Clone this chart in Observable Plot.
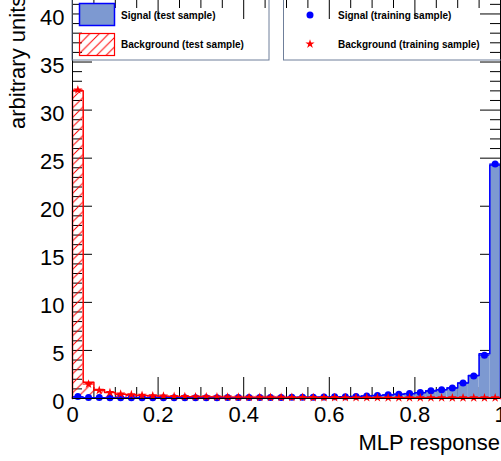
<!DOCTYPE html>
<html><head><meta charset="utf-8">
<script src="https://cdn.jsdelivr.net/npm/d3@7"></script>
<script src="https://cdn.jsdelivr.net/npm/@observablehq/plot@0.6"></script>
<style>html,body{margin:0;padding:0;background:#fff;overflow:hidden}</style>
</head><body><div id="chart"></div>
<script>
// ---- data (40 bins of width 0.025 over MLP response 0..1) ----
const binWidth = 0.025;
const sigTest  = [0.15,0.08,0.07,0.06,0.06,0.06,0.06,0.06,0.06,0.07,0.07,0.07,0.07,0.08,0.08,0.08,0.09,0.09,0.10,0.10,0.11,0.12,0.13,0.14,0.16,0.18,0.21,0.25,0.30,0.36,0.43,0.50,0.60,0.78,0.90,1.10,1.60,2.40,4.65,24.3];
const sigTrain = [0.20,0.10,0.10,0.08,0.08,0.08,0.08,0.08,0.08,0.08,0.08,0.09,0.09,0.09,0.10,0.10,0.10,0.10,0.11,0.11,0.12,0.13,0.14,0.15,0.17,0.19,0.22,0.26,0.31,0.38,0.45,0.53,0.62,0.80,0.90,1.10,1.60,2.35,4.50,24.4];
const bkgTest  = [32.0,1.70,0.90,0.62,0.45,0.37,0.30,0.26,0.23,0.20,0.18,0.17,0.16,0.15,0.14,0.13,0.13,0.12,0.12,0.11,0.11,0.10,0.10,0.10,0.09,0.09,0.09,0.09,0.08,0.08,0.08,0.08,0.08,0.08,0.07,0.07,0.07,0.07,0.07,0.07];
const bkgTrain = [32.1,1.50,0.85,0.62,0.47,0.40,0.33,0.28,0.25,0.22,0.20,0.18,0.17,0.16,0.15,0.14,0.13,0.13,0.12,0.12,0.11,0.11,0.10,0.10,0.10,0.09,0.09,0.09,0.09,0.08,0.08,0.08,0.08,0.08,0.08,0.07,0.07,0.07,0.07,0.07];
const xMajor = [0, 0.2, 0.4, 0.6, 0.8, 1];
const xMinor = [0.05,0.1,0.15,0.25,0.3,0.35,0.45,0.5,0.55,0.65,0.7,0.75,0.85,0.9,0.95];
const yMajor = [0, 5, 10, 15, 20, 25, 30, 35, 40];
const yMinor = [1,2,3,4,6,7,8,9,11,12,13,14,16,17,18,19,21,22,23,24,26,27,28,29,31,32,33,34,36,37,38,39,41];
const xTitle = "MLP response";
const yTitle = "arbitrary units";
const legendLabels = ["Signal (test sample)", "Background (test sample)", "Signal (training sample)", "Background (training sample)"];

const binLo = d3.range(sigTest.length).map(i => i * binWidth);
const rows = vals => vals.map((v, i) => ({lo: binLo[i], hi: binLo[i] + binWidth, v}));
const outline = vals => {
  const pts = [{x: 0, y: 0}];
  vals.forEach((v, i) => pts.push({x: binLo[i], y: v}));
  pts.push({x: 1, y: vals[vals.length - 1]});
  pts.push({x: 1, y: 0});
  return pts;
};

const SIGFILL = "#7d99d1", BLUE = "#0000ff", RED = "#ff0000";
const STAR_R = 2.9;

const chart = Plot.plot({
  width: 501, height: 461,
  marginLeft: 72, marginRight: 1, marginTop: 0, marginBottom: 63,
  x: {domain: [0, 1]},
  y: {domain: [0, 41.4]},
  style: {fontFamily: "'Liberation Sans', Arial, sans-serif", background: "white", color: "black", overflow: "visible"},
  marks: [
    // ticks (inside frame)
    Plot.ruleX(xMajor, {stroke: "black", insetTop: 377}),
    Plot.ruleX(xMinor, {stroke: "black", insetTop: 387}),
    Plot.ruleX(xMajor, {stroke: "black", insetBottom: 379}),
    Plot.ruleX(xMinor, {stroke: "black", insetBottom: 390}),
    Plot.ruleY(yMajor, {stroke: "black", insetRight: 408}),
    Plot.ruleY(yMinor, {stroke: "black", insetRight: 418}),
    Plot.ruleY(yMajor, {stroke: "black", insetLeft: 408}),
    Plot.ruleY(yMinor, {stroke: "black", insetLeft: 418}),
    // signal test histogram
    Plot.rectY(rows(sigTest), {x1: "lo", x2: "hi", y: "v", fill: SIGFILL}),
    Plot.line(outline(sigTest), {x: "x", y: "y", stroke: BLUE, strokeWidth: 1.5, curve: "step-after"}),
    // background test histogram (hatched)
    Plot.rectY(rows(bkgTest), {x1: "lo", x2: "hi", y: "v", fill: "url(#hatchRed)"}),
    Plot.line(outline(bkgTest), {x: "x", y: "y", stroke: RED, strokeWidth: 1.5, curve: "step-after"}),
    // training points
    Plot.ruleY(rows(sigTrain), {x1: "lo", x2: "hi", y: "v", stroke: BLUE, strokeWidth: 1}),
    Plot.dot(rows(sigTrain), {x: d => (d.lo + d.hi) / 2, y: "v", r: 3.5, fill: BLUE, stroke: "none"}),
    Plot.ruleY(rows(bkgTrain), {x1: "lo", x2: "hi", y: "v", stroke: RED, strokeWidth: 1}),
    Plot.dot(rows(bkgTrain), {x: d => (d.lo + d.hi) / 2, y: "v", r: STAR_R, symbol: "star", fill: RED, stroke: "none"}),
    // frame lines
    Plot.ruleX([0, 1], {stroke: "black"}),
    Plot.ruleY([0], {stroke: "black"}),
    // axes labels
    Plot.axisX({ticks: xMajor, anchor: "bottom", tickSize: 0, tickPadding: 8, fontSize: 22, tickFormat: d => String(d), label: null}),
    Plot.axisY({ticks: yMajor, anchor: "left", tickSize: 0, tickPadding: 8, fontSize: 22, dy: 3.5, label: null})
  ]
});
document.getElementById("chart").appendChild(chart);

const svg = d3.select(chart);
const defs = svg.insert("defs", ":first-child");
const pat = defs.append("pattern").attr("id", "hatchRed").attr("patternUnits", "userSpaceOnUse")
  .attr("width", 9.5).attr("height", 9.5);
pat.append("path").attr("d", "M0,9.5 L9.5,0 M-2,2 L2,-2 M7.5,11.5 L11.5,7.5")
  .attr("stroke", RED).attr("stroke-width", 1).attr("fill", "none");

// axis titles
svg.append("text").text(xTitle).attr("x", 500).attr("y", 450).attr("text-anchor", "end")
  .attr("font-size", 22).attr("fill", "black");
svg.append("text").text(yTitle).attr("transform", "translate(25,129) rotate(-90)").attr("text-anchor", "start")
  .attr("font-size", 22).attr("fill", "black");

// legend
const lg = svg.append("g").attr("text-anchor", "start");
const boxStroke = "#6f7f9a";
lg.append("rect").attr("x", 72).attr("y", -10).attr("width", 197).attr("height", 70)
  .attr("fill", "none").attr("stroke", boxStroke);
lg.append("rect").attr("x", 283.5).attr("y", -10).attr("width", 240).attr("height", 70)
  .attr("fill", "none").attr("stroke", boxStroke);
lg.append("rect").attr("x", 79.5).attr("y", 3.5).attr("width", 35).attr("height", 22)
  .attr("fill", SIGFILL).attr("stroke", BLUE).attr("stroke-width", 1.5);
lg.append("rect").attr("x", 79.5).attr("y", 33.5).attr("width", 35).attr("height", 22)
  .attr("fill", "url(#hatchRed)").attr("stroke", RED).attr("stroke-width", 1.2);
lg.append("circle").attr("cx", 310).attr("cy", 15).attr("r", 3.5).attr("fill", BLUE);
lg.append("path").attr("d", d3.symbol(d3.symbolStar, Math.PI * STAR_R * STAR_R)()).attr("transform", "translate(310,44)").attr("fill", RED);
const lt = [[121, 18.5], [121, 47.5], [338, 18.5], [338, 47.5]];
legendLabels.forEach((t, i) => {
  lg.append("text").text(t).attr("x", lt[i][0]).attr("y", lt[i][1]).attr("text-anchor", "start")
    .attr("font-size", 10).attr("font-weight", "bold").attr("fill", "black");
});
</script></body></html>
